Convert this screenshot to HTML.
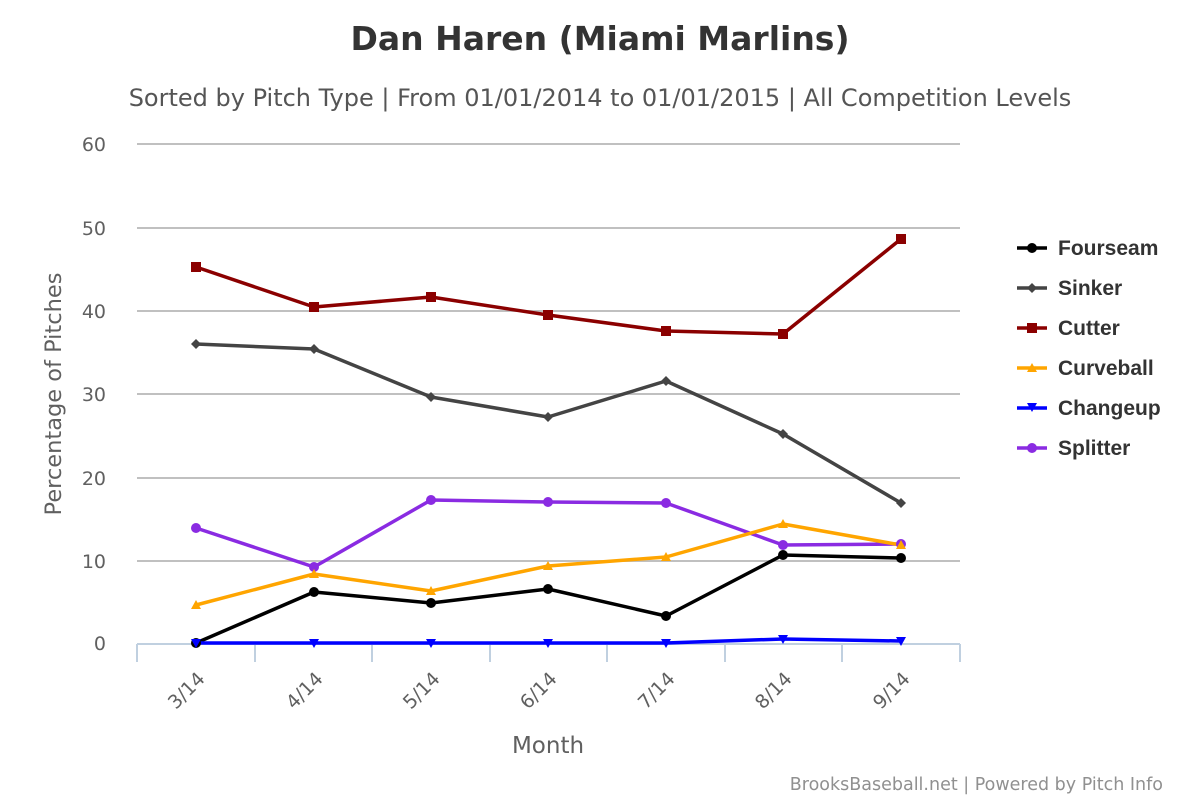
<!DOCTYPE html>
<html><head><meta charset="utf-8"><style>body{margin:0;background:#fff}svg{display:block}</style></head><body>
<svg width="1200" height="800" xmlns="http://www.w3.org/2000/svg" font-family="DejaVu Sans, Liberation Sans, sans-serif">
<rect width="1200" height="800" fill="#fff"/>
<text x="600" y="50" text-anchor="middle" font-size="33" font-weight="bold" fill="#333">Dan Haren (Miami Marlins)</text>
<text x="600" y="106" text-anchor="middle" font-size="24" fill="#555">Sorted by Pitch Type | From 01/01/2014 to 01/01/2015 | All Competition Levels</text>
<g stroke="#c0c0c0" stroke-width="2">
<line x1="137" y1="144" x2="960" y2="144"/><line x1="137" y1="228" x2="960" y2="228"/><line x1="137" y1="311" x2="960" y2="311"/><line x1="137" y1="394" x2="960" y2="394"/><line x1="137" y1="478" x2="960" y2="478"/><line x1="137" y1="561" x2="960" y2="561"/>
</g>
<g stroke="#c0d0e0" stroke-width="2">
<line x1="137" y1="644" x2="960" y2="644"/>
<line x1="137" y1="644" x2="137" y2="662"/><line x1="255" y1="644" x2="255" y2="662"/><line x1="372" y1="644" x2="372" y2="662"/><line x1="490" y1="644" x2="490" y2="662"/><line x1="607" y1="644" x2="607" y2="662"/><line x1="725" y1="644" x2="725" y2="662"/><line x1="842" y1="644" x2="842" y2="662"/><line x1="960" y1="644" x2="960" y2="662"/>
</g>
<g font-size="19" fill="#606060" text-anchor="end">
<text x="106" y="151">60</text><text x="106" y="235">50</text><text x="106" y="318">40</text><text x="106" y="401">30</text><text x="106" y="485">20</text><text x="106" y="568">10</text><text x="106" y="650">0</text>
</g>
<g font-size="19" fill="#606060" text-anchor="end">
<text transform="translate(206,680) rotate(-45)">3/14</text>
<text transform="translate(324,680) rotate(-45)">4/14</text>
<text transform="translate(441,680) rotate(-45)">5/14</text>
<text transform="translate(558,680) rotate(-45)">6/14</text>
<text transform="translate(676,680) rotate(-45)">7/14</text>
<text transform="translate(793,680) rotate(-45)">8/14</text>
<text transform="translate(911,680) rotate(-45)">9/14</text>
</g>
<text x="548" y="753" text-anchor="middle" font-size="23" fill="#606060">Month</text>
<text transform="translate(61,394) rotate(-90)" text-anchor="middle" font-size="22.5" fill="#606060">Percentage of Pitches</text>
<text x="1163" y="790" text-anchor="end" font-size="17.5" fill="#909090">BrooksBaseball.net | Powered by Pitch Info</text>
<g fill="none" stroke-width="3.5" stroke-linejoin="round">
<polyline stroke="#8b0000" points="196,267 314,307 431,297 548,315 666,331 783,334 901,239"/>
<polyline stroke="#444" points="196,344 314,349 431,397 548,417 666,381 783,434 901,503"/>
<polyline stroke="#8a2be2" points="196,528 314,567 431,500 548,502 666,503 783,545 901,544"/>
<polyline stroke="#ffa500" points="196,605 314,574 431,591 548,566 666,557 783,524 901,545"/>
<polyline stroke="#000" points="196,643 314,592 431,603 548,589 666,616 783,555 901,558"/>
<polyline stroke="#0000ff" points="196,643 314,643 431,643 548,643 666,643 783,639 901,641"/>
</g>
<g fill="#8b0000"><rect x="191" y="262" width="10" height="10"/><rect x="309" y="302" width="10" height="10"/><rect x="426" y="292" width="10" height="10"/><rect x="543" y="310" width="10" height="10"/><rect x="661" y="326" width="10" height="10"/><rect x="778" y="329" width="10" height="10"/><rect x="896" y="234" width="10" height="10"/></g>
<g fill="#444"><path d="M196 339l5 5-5 5-5-5z"/><path d="M314 344l5 5-5 5-5-5z"/><path d="M431 392l5 5-5 5-5-5z"/><path d="M548 412l5 5-5 5-5-5z"/><path d="M666 376l5 5-5 5-5-5z"/><path d="M783 429l5 5-5 5-5-5z"/><path d="M901 498l5 5-5 5-5-5z"/></g>
<g fill="#8a2be2"><circle cx="196" cy="528" r="5"/><circle cx="314" cy="567" r="5"/><circle cx="431" cy="500" r="5"/><circle cx="548" cy="502" r="5"/><circle cx="666" cy="503" r="5"/><circle cx="783" cy="545" r="5"/><circle cx="901" cy="544" r="5"/></g>
<g fill="#ffa500"><path d="M196 600l5 9h-10z"/><path d="M314 569l5 9h-10z"/><path d="M431 586l5 9h-10z"/><path d="M548 561l5 9h-10z"/><path d="M666 552l5 9h-10z"/><path d="M783 519l5 9h-10z"/><path d="M901 540l5 9h-10z"/></g>
<g fill="#000"><circle cx="196" cy="643" r="5"/><circle cx="314" cy="592" r="5"/><circle cx="431" cy="603" r="5"/><circle cx="548" cy="589" r="5"/><circle cx="666" cy="616" r="5"/><circle cx="783" cy="555" r="5"/><circle cx="901" cy="558" r="5"/></g>
<g fill="#0000ff"><path d="M191 639h10l-5 9z"/><path d="M309 639h10l-5 9z"/><path d="M426 639h10l-5 9z"/><path d="M543 639h10l-5 9z"/><path d="M661 639h10l-5 9z"/><path d="M778 635h10l-5 9z"/><path d="M896 637h10l-5 9z"/></g>
<g stroke-width="3.5">
<line x1="1017" y1="248" x2="1047" y2="248" stroke="#000"/><circle cx="1032" cy="248" r="5" fill="#000"/>
<line x1="1017" y1="288" x2="1047" y2="288" stroke="#444"/><path d="M1032 283l5 5-5 5-5-5z" fill="#444"/>
<line x1="1017" y1="328" x2="1047" y2="328" stroke="#8b0000"/><rect x="1027" y="323" width="10" height="10" fill="#8b0000"/>
<line x1="1017" y1="368" x2="1047" y2="368" stroke="#ffa500"/><path d="M1032 363l5 9h-10z" fill="#ffa500"/>
<line x1="1017" y1="408" x2="1047" y2="408" stroke="#0000ff"/><path d="M1027 403h10l-5 9z" fill="#0000ff"/>
<line x1="1017" y1="448" x2="1047" y2="448" stroke="#8a2be2"/><circle cx="1032" cy="448" r="5" fill="#8a2be2"/>
</g>
<g font-size="21" font-weight="bold" fill="#333" font-family="Liberation Sans, sans-serif">
<text x="1058" y="255">Fourseam</text><text x="1058" y="295">Sinker</text><text x="1058" y="335">Cutter</text><text x="1058" y="375">Curveball</text><text x="1058" y="415">Changeup</text><text x="1058" y="455">Splitter</text>
</g>
</svg>
</body></html>
